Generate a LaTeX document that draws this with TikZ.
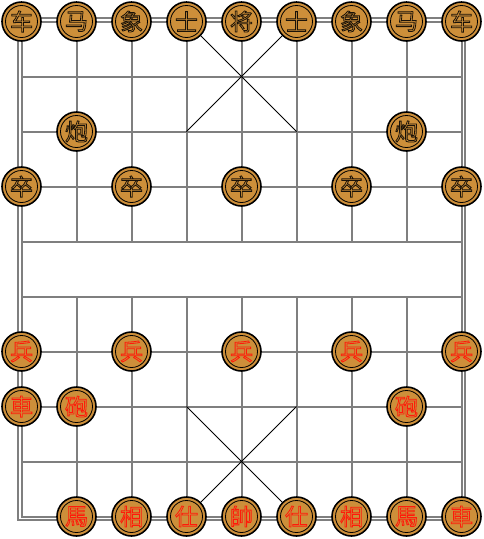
\documentclass[tikz,border=0pt]{standalone}
\usepackage{fontspec}
\newfontfamily\cjk{Noto Sans CJK SC}
\definecolor{Wood}{HTML}{CD8F3A}
\definecolor{Line}{HTML}{7F7F7F}
\definecolor{RedSide}{HTML}{FF1A0A}
\definecolor{BlackSide}{HTML}{1A1208}
% glyphs drawn as outlines only
\newcommand{\outlined}[1]{\special{pdf:literal direct 1 Tr 0.8 w}#1\special{pdf:literal direct 0 Tr}}

\begin{document}
\begin{tikzpicture}[x=1pt,y=-1pt,
    gridline/.style={Line,line width=2pt},
    palace/.style={black,line width=0.8pt},
    piece/.style={circle,draw=black,line width=1.6pt,fill=Wood,minimum size=39pt,inner sep=0pt,font=\cjk\fontsize{23}{23}\selectfont}]
  \useasboundingbox (0,0) rectangle (484,539);
  % board
  \foreach \j in {0,...,9}
    \draw[gridline] (21.5,{21.5+55*\j}) -- (461.5,{21.5+55*\j});
  \foreach \i in {1,...,7} {
    \draw[gridline] ({21.5+55*\i},21.5) -- ({21.5+55*\i},241.5);
    \draw[gridline] ({21.5+55*\i},296.5) -- ({21.5+55*\i},516.5);
  }
  \draw[gridline] (21.5,21.5) rectangle (461.5,516.5);
  \draw[gridline] (18,18) rectangle (465,520);
  % palaces
  \draw[palace] (186.5,21.5) -- (296.5,131.5) (296.5,21.5) -- (186.5,131.5);
  \draw[palace] (186.5,406.5) -- (296.5,516.5) (296.5,406.5) -- (186.5,516.5);
  % black side
  \foreach \c/\i/\j in {车/0/0,马/1/0,象/2/0,士/3/0,将/4/0,士/5/0,象/6/0,马/7/0,车/8/0,
      炮/1/2,炮/7/2,卒/0/3,卒/2/3,卒/4/3,卒/6/3,卒/8/3} {
    \node[piece,text=BlackSide] (b\i\j) at ({21.5+55*\i},{21.5+55*\j}) {\outlined{\c}};
    \draw[line width=0.8pt] (b\i\j.center) circle (16);
  }
  % red side
  \foreach \c/\i/\j in {兵/0/6,兵/2/6,兵/4/6,兵/6/6,兵/8/6,車/0/7,砲/1/7,砲/7/7,
      馬/1/9,相/2/9,仕/3/9,帥/4/9,仕/5/9,相/6/9,馬/7/9,車/8/9} {
    \node[piece,text=RedSide] (r\i\j) at ({21.5+55*\i},{21.5+55*\j}) {\outlined{\c}};
    \draw[line width=0.8pt] (r\i\j.center) circle (16);
  }
\end{tikzpicture}
\end{document}
